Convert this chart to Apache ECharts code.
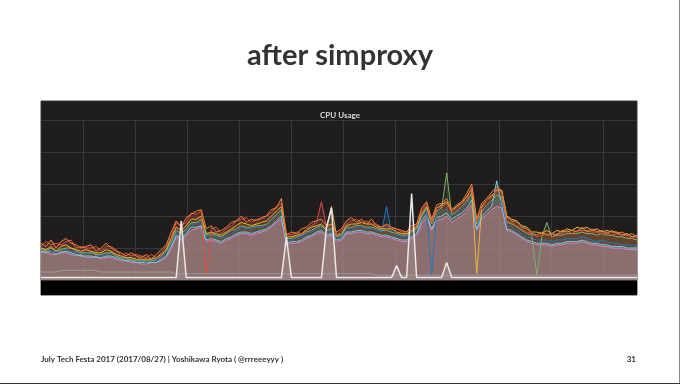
<!DOCTYPE html>
<html>
<head>
<meta charset="utf-8">
<script src="https://cdn.jsdelivr.net/npm/echarts@6/dist/echarts.min.js"></script>
<style>html,body{margin:0;padding:0;background:#fff}#c{width:680px;height:384px}</style>
</head>
<body>
<div id="c"></div>
<script>
// CPU usage (%) per series, sampled at equal time steps
var orange = [
 23,21,25,20,24,26,23,22,20,21, 22,18,20,23,20,18,17,15,17,15,
 14,16,13,16,19,22,30,37,33,39, 41,43,44,32,34,30,31,33,36,37,
 40,36,38,37,39,40,44,45,51,28, 30,29,32,33,36,37,38,34,35,30,
 32,37,39,36,38,35,38,34,33,35, 33,32,31,30,34,35,45,49,38,47,
 48,51,44,47,49,54,60,38,48,51, 55,58,56,39,37,36,33,32,29,28,
 30,28,29,28,31,30,31,30,33,30, 32,30,31,29,31,29,30,28,29,27];
var red = [
 21,24,22,23,22,24,25,20,21,20, 20,21,18,21,21,19,15,17,15,16,
 15,14,16,14,17,21,27,36,34,36, 42,41,43,3,32,33,29,32,34,37,
 38,39,36,38,38,40,42,46,48,29, 28,30,29,32,34,36,49,33,35,28,
 31,35,37,38,36,37,35,35,33,34, 32,32,30,30,32,34,43,48,36,45,
 46,48,43,45,48,50,58,37,45,50, 52,57,55,37,36,34,32,30,29,27,
 28,29,27,29,29,31,29,31,31,31, 30,30,29,30,28,29,28,28,26,27];
var yellow = [
 20,19,21,18,21,22,20,19,18,19, 18,17,17,19,18,16,15,14,14,13,
 13,13,13,14,16,19,26,33,31,34, 38,38,40,29,30,29,28,30,32,34,
 36,35,34,35,36,37,40,43,46,27, 27,28,29,31,33,34,35,32,46,28,
 29,34,35,35,36,35,35,33,32,32, 32,30,29,29,31,33,41,46,36,45,
 47,49,43,46,48,52,57,4,46,50, 53,56,56,40,38,37,34,33,30,30,
 29,31,29,31,30,32,31,33,32,33, 31,32,30,31,30,30,28,29,27,28];
var green = [
 19,18,20,18,19,20,20,18,17,17, 17,16,16,17,17,15,14,13,13,12,
 12,12,12,13,15,18,24,31,29,32, 36,36,38,28,29,28,27,29,31,32,
 34,33,33,34,34,35,38,41,44,26, 26,27,28,30,31,33,34,31,32,27,
 28,33,33,34,34,33,33,32,31,31, 30,29,28,28,30,32,40,45,35,43,
 45,67,41,43,46,49,54,35,43,47, 50,53,52,36,35,33,31,29,28,3,
 27,36,27,28,28,29,29,29,30,29, 29,28,29,28,28,27,27,26,26,25];
var blue = [
 20,19,18,17,20,19,18,17,17,16, 17,16,15,16,17,15,14,13,13,12,
 12,11,12,12,14,17,23,30,28,31, 35,35,37,27,28,27,26,28,29,31,
 33,32,32,33,33,34,37,40,43,25, 25,26,27,29,30,32,33,30,31,27,
 27,32,32,33,33,32,32,31,30,46, 29,28,27,27,29,31,39,43,3,41,
 43,44,40,42,44,48,52,34,42,45, 48,50,49,34,33,31,29,27,26,25,
 25,25,24,25,25,26,26,26,27,26, 25,24,25,24,23,23,22,22,22,21];
var teal = [
 18,17,18,16,17,18,17,16,15,15, 15,14,14,15,15,14,13,12,12,11,
 11,11,11,11,13,15,21,28,26,29, 33,33,34,25,26,25,24,26,27,29,
 30,30,29,30,31,32,34,37,40,23, 24,24,25,27,28,30,31,28,29,25,
 26,30,30,31,31,30,30,29,28,28, 27,26,25,25,27,29,37,41,32,39,
 40,42,38,40,42,45,50,32,40,43, 46,62,47,32,31,29,27,25,24,23,
 23,23,22,23,23,24,24,24,25,24, 23,23,22,22,21,21,21,20,20,20];
var lavender = [
 17,18,16,16,18,17,16,15,16,14, 14,15,13,14,14,13,12,12,11,11,
 10,10,11,11,12,14,20,27,25,28, 31,32,33,24,25,24,23,25,26,28,
 29,29,28,29,30,31,33,36,38,22, 23,23,24,26,27,29,30,27,28,24,
 25,29,29,30,30,29,29,28,27,27, 26,25,24,24,26,28,35,39,31,37,
 38,40,36,38,40,43,47,31,38,41, 44,46,45,31,30,28,26,24,23,22,
 22,22,21,22,22,23,23,23,24,23, 22,22,21,21,20,20,20,19,19,19];
var gray = [
 5,5,5,5,6,6,6,6,6,6, 6,6,5,5,5,5,5,5,5,5,
 5,5,5,5,5,5,5,4,4,4, 4,4,4,4,4,4,4,4,4,4,
 4,4,4,4,4,4,4,4,4,4, 4,4,4,4,4,4,4,4,4,4,
 4,4,4,4,4,4,4,3,3,3, 3,3,3,3,3,3,3,3,3,3,
 3,3,3,3,3,3,3,3,3,3, 3,3,3,3,3,3,3,3,3,3,
 3,3,3,3,3,3,3,3,3,3, 3,3,3,3,3,3,3,3,3,3];
var white = [
 1.5,1.5,1.5,1.5,1.5,1.5,1.5,1.5,1.5,1.5, 1.5,1.5,1.5,1.5,1.5,1.5,1.5,1.5,1.5,1.5,
 1.5,1.5,1.5,1.5,1.5,1.5,1.5,1.5,37,1.5, 1.5,1.5,1.5,1.5,1.5,1.5,1.5,1.5,1.5,1.5,
 1.5,1.5,1.5,1.5,1.5,1.5,1.5,1.5,1.5,27, 1.5,1.5,1.5,1.5,1.5,1.5,1.5,33,45,1.5,
 1.5,1.5,1.5,1.5,1.5,1.5,1.5,1.5,1.5,1.5, 1.5,9,1.5,1.5,54,1.5,1.5,1.5,1.5,1.5,
 1.5,11,1.5,1.5,1.5,1.5,1.5,1.5,1.5,1.5, 1.5,1.5,1.5,1.5,1.5,1.5,1.5,1.5,1.5,1.5,
 1.5,1.5,1.5,1.5,1.5,1.5,1.5,1.5,1.5,1.5, 1.5,1.5,1.5,1.5,1.5,1.5,1.5,1.5,1.5,1.5];

var times = [];
for (var i = 0; i < orange.length; i++) {
  var m = i * 12, h = Math.floor(m / 60), mm = m % 60;
  times.push((h < 10 ? '0' : '') + h + ':' + (mm < 10 ? '0' : '') + mm);
}
var hourTicks = [0,1,2,3,4,5,6,7,8,9,10];

// name, data, colour, area opacity
var seriesDefs = [
  ['lavender', lavender, '#D683CE', 0.4],
  ['teal', teal, '#6ED0E0', 0.2],
  ['blue', blue, '#1F78C1', 0.15],
  ['green', green, '#7EB26D', 0.1],
  ['yellow', yellow, '#EAB839', 0.1],
  ['red', red, '#E24D42', 0.15],
  ['orange', orange, '#EF843C', 0.1],
  ['gray', gray, '#9a9a9a', 0.1],
  ['white', white, '#e8e8e8', 0.12]
];

var series = seriesDefs.map(function (d) {
  return {
    name: d[0], type: 'line', data: d[1], xAxisIndex: 0, yAxisIndex: 0,
    showSymbol: false, symbol: 'none', smooth: false,
    lineStyle: { width: d[0] === 'white' ? 1.5 : 1, color: d[2] },
    itemStyle: { color: d[2] },
    areaStyle: { color: d[2], opacity: d[3] },
    emphasis: { disabled: true }
  };
});
series.push({ type: 'line', data: [], xAxisIndex: 1, yAxisIndex: 1 });

var chart = echarts.init(document.getElementById('c'), null, { renderer: 'canvas' });
chart.setOption({
  animation: false,
  backgroundColor: '#ffffff',
  title: [
    { text: 'after simproxy', left: 'center', top: 36,
      textStyle: { fontFamily: 'Lato', fontWeight: 'bold', fontSize: 29, color: '#333333' } },
    { text: 'CPU Usage', left: 'center', top: 106,
      textStyle: { fontFamily: 'Lato', fontWeight: 'bold', fontSize: 8, color: '#d8d9da' } }
  ],
  grid: [
    { left: 41, right: 43, top: 120, bottom: 104 },
    { left: 83, right: 77, top: 120, bottom: 104 }
  ],
  xAxis: [
    { type: 'category', data: times, boundaryGap: false, gridIndex: 0,
      axisLine: { show: false }, axisTick: { show: false }, axisLabel: { show: false }, splitLine: { show: false } },
    { type: 'value', gridIndex: 1, min: hourTicks[0], max: hourTicks[hourTicks.length - 1], interval: 1,
      axisLine: { show: false }, axisTick: { show: false }, axisLabel: { show: false },
      splitLine: { show: true, lineStyle: { color: '#383636', width: 1 } } }
  ],
  yAxis: [
    { type: 'value', gridIndex: 0, min: 0, max: 100, interval: 20,
      axisLine: { show: false }, axisTick: { show: false }, axisLabel: { show: false },
      splitLine: { show: true, lineStyle: { color: '#383636', width: 1 } } },
    { type: 'value', gridIndex: 1, min: 0, max: 100, show: false, splitLine: { show: false } }
  ],
  series: series,
  graphic: [
    { type: 'rect', z: -100, shape: { x: 41, y: 101, width: 596, height: 194 },
      style: { fill: '#1f1d1e', stroke: '#3a3a3a', lineWidth: 1 } },
    { type: 'rect', z: 100, shape: { x: 41, y: 281, width: 596, height: 14 },
      style: { fill: '#000000' } },
    { type: 'text', z: 100, left: 41, top: 355,
      style: { text: 'July Tech Festa 2017 (2017/08/27) | Yoshikawa Ryota ( @rrreeeyyy )',
        fontFamily: 'Lato', fontWeight: 'bold', fontSize: 8, fill: '#333333' } },
    { type: 'text', z: 100, right: 44, top: 355,
      style: { text: '31', fontFamily: 'Lato', fontWeight: 'bold', fontSize: 8, fill: '#333333' } },
    { type: 'line', z: 100, shape: { x1: 679.5, y1: 0, x2: 679.5, y2: 384 },
      style: { stroke: '#8a8a8a', lineWidth: 1 } },
    { type: 'line', z: 100, shape: { x1: 0, y1: 383.5, x2: 680, y2: 383.5 },
      style: { stroke: '#333333', lineWidth: 1 } }
  ]
});
</script>
</body>
</html>
